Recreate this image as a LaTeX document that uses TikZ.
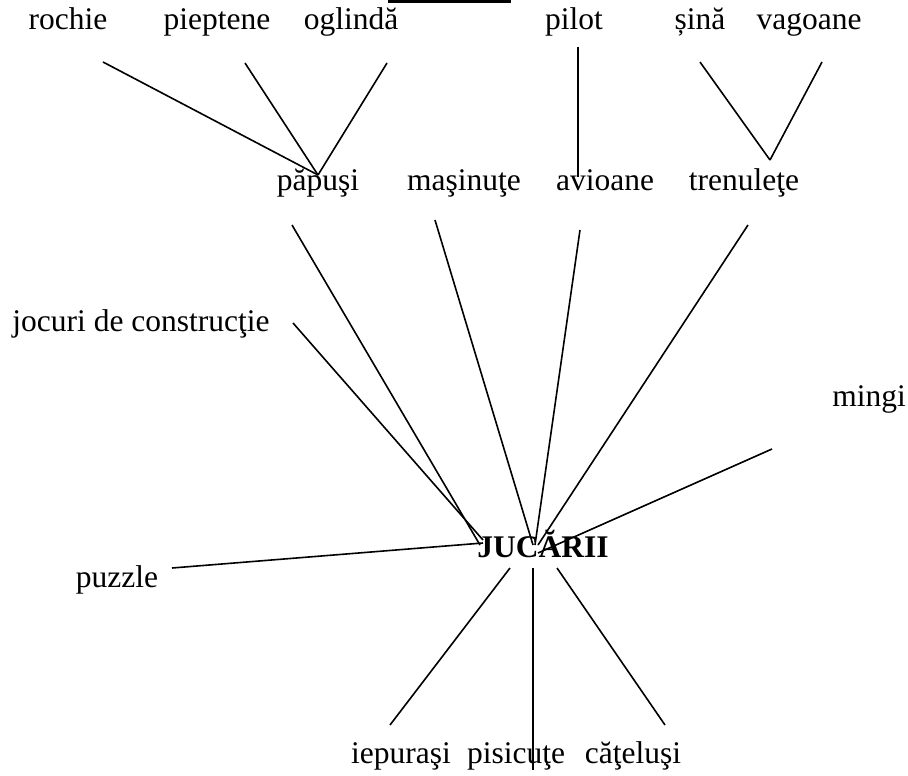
\documentclass[tikz,border=0pt]{standalone}
\usepackage{fontspec}
\setmainfont{Liberation Serif}
\tikzset{
  lbl/.style={inner sep=0pt, anchor=base, font=\fontsize{31.5}{37}\selectfont},
  bigl/.style={lbl, font=\fontsize{31.5}{37}\selectfont\bfseries},
  conn/.style={line width=1.6pt, black}
}
\begin{document}
\begin{tikzpicture}[x=1pt,y=-1pt]
\useasboundingbox (0,0) rectangle (908,776);
% cut-off header bar
\fill[black] (388,0) rectangle (511,3);
% top row
\node[lbl] (rochie) at (68,30) {rochie};
\node[lbl] (pieptene) at (217,30) {pieptene};
\node[lbl] (oglinda) at (351,30) {oglindă};
\node[lbl] (pilot) at (574,30) {pilot};
\node[lbl] (sina) at (700,30) {șină};
\node[lbl] (vagoane) at (809,30) {vagoane};
% middle row
\node[lbl] (papusi) at (318,190) {păpuşi};
\node[lbl] (masinute) at (464,190) {maşinuţe};
\node[lbl] (avioane) at (605,190) {avioane};
\node[lbl] (trenulete) at (744,190) {trenuleţe};
% others
\node[lbl] (jocuri) at (141,331) {jocuri de construcţie};
\node[lbl] (mingi) at (869,406) {mingi};
\node[bigl] (jucarii) at (543,557) {JUCĂRII};
\node[lbl] (puzzle) at (117,587) {puzzle};
\node[lbl] (iepurasi) at (401,763) {iepuraşi};
\node[lbl] (pisicute) at (516,763) {pisicuţe};
\node[lbl] (catelusi) at (633,763) {căţeluşi};
% connector endpoints
\coordinate (cRo) at (103,62);
\coordinate (cPi) at (245,63);
\coordinate (cOg) at (387,63);
\coordinate (cPp) at (318,175);
\coordinate (cPl) at (578,47);
\coordinate (cAv) at (578,177);
\coordinate (cSi) at (700,62);
\coordinate (cVa) at (822,62);
\coordinate (cTr) at (770,160);
\coordinate (dPp) at (292,225);
\coordinate (dMa) at (435,220);
\coordinate (dAv) at (580,230);
\coordinate (dTr) at (748,225);
\coordinate (dJo) at (293,323);
\coordinate (dMi) at (772,449);
\coordinate (dPu) at (172,568);
\coordinate (dIe) at (390,725);
\coordinate (dPs) at (533,770);
\coordinate (dCa) at (665,725);
\coordinate (j1) at (480,545);
\coordinate (j2) at (533,545);
\coordinate (j3) at (535,545);
\coordinate (j4) at (538,545);
\coordinate (j5) at (483,540);
\coordinate (j6) at (538,553);
\coordinate (j7) at (483,543);
\coordinate (j8) at (510,568);
\coordinate (j9) at (533,568);
\coordinate (j10) at (557,568);
% connectors
\draw[conn] (cRo) -- (cPp);
\draw[conn] (cPi) -- (cPp);
\draw[conn] (cOg) -- (cPp);
\draw[conn] (cPl) -- (cAv);
\draw[conn] (cSi) -- (cTr);
\draw[conn] (cVa) -- (cTr);
\draw[conn] (dPp) -- (j1);
\draw[conn] (dMa) -- (j2);
\draw[conn] (dAv) -- (j3);
\draw[conn] (dTr) -- (j4);
\draw[conn] (dJo) -- (j5);
\draw[conn] (dMi) -- (j6);
\draw[conn] (dPu) -- (j7);
\draw[conn] (j8) -- (dIe);
\draw[conn] (j9) -- (dPs);
\draw[conn] (j10) -- (dCa);
\end{tikzpicture}
\end{document}
